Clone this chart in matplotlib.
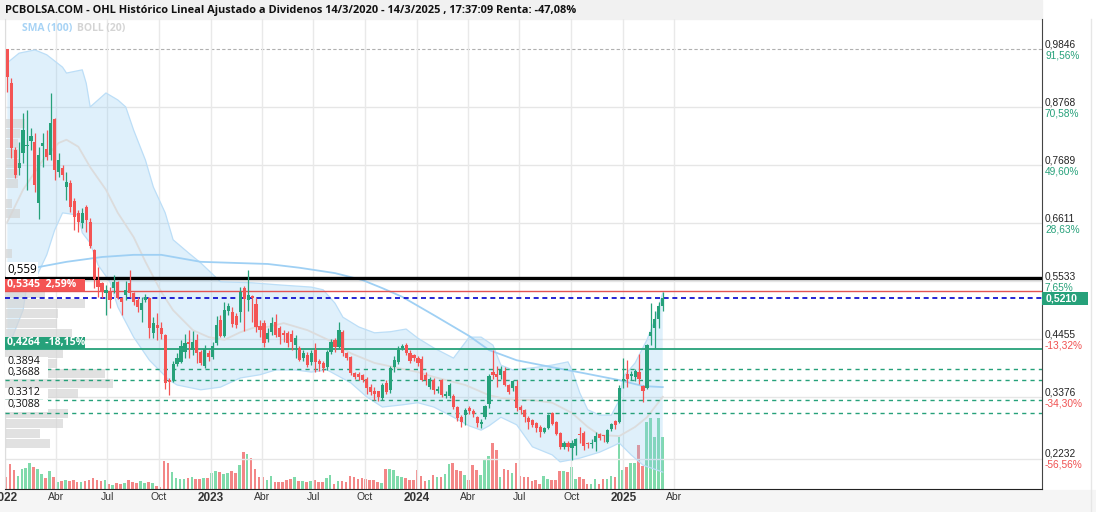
import datetime as dt
import numpy as np
import matplotlib
matplotlib.use("Agg")
import matplotlib.pyplot as plt
import matplotlib.dates as mdates
import matplotlib.transforms as mtransforms
from matplotlib.patches import Rectangle

# ---- weekly OHL candles (first week 5/1/2022, last week 12/3/2025) ----
open_p = [
    .985, .921, .797, .763, .791, .804, .814, .812, .698, .804, .799, .788, .855, .756, .763, .728,
    .736, .702, .680, .661, .691, .663, .611,
    .555, .550, .531, .533, .540, .551, .522, .527, .550, .531, .518, .499, .518, .522, .457, .471,
    .466, .453,
    .370, .369, .399, .403, .421, .440, .425, .443, .421, .395, .419, .412,
    .438, .481, .451, .497, .495, .488, .495, .540, .518, .525, .510, .470, .475, .4455, .458, .477,
    .466, .456, .457, .455, .434, .429, .410, .416, .403, .425, .405, .401, .393, .421, .443, .431,
    .458, .419, .412, .382, .380, .378, .371, .356, .349, .348, .336, .364, .350, .393, .403, .429,
    .434, .419, .416, .410, .408, .378, .356, .369, .349, .369, .340, .339, .340,
    .319, .3005, .304, .317, .312, .3005, .287, .3005, .325, .384, .380, .378, .386, .360, .354, .358,
    .319, .3135, .299, .295, .2893, .282, .2726, .280, .308, .291, .2707, .2447, .2521, .2428, .2465,
    .2689, .2707, .2512, .2503, .254, .2689, .267, .254, .2782, .293, .291, .367, .380, .377, .375,
    .384, .358, .354, .451, .466, .483, .507]
high_p = [
    .985, .931, .802, .812, .866, .871, .838, .829, .802, .829, .834, .903, .856, .791, .769, .756,
    .741, .708, .685, .689, .695, .670, .613,
    .579, .552, .546, .542, .564, .553, .524, .553, .574, .533, .524, .524, .529, .524, .486, .494,
    .477, .455,
    .373, .405, .420, .443, .455, .462, .460, .455, .425, .434, .425, .440,
    .488, .490, .514, .512, .505, .494, .542, .544, .574, .527, .522, .480, .480, .466, .486, .492,
    .470, .462, .460, .462, .453, .432, .425, .421, .425, .438, .408, .405, .425, .445, .447, .477,
    .462, .421, .414, .384, .384, .380, .375, .362, .356, .349, .364, .369, .395, .414, .432, .436,
    .438, .425, .418, .414, .414, .384, .375, .373, .358, .371, .349, .364, .343,
    .321, .304, .317, .321, .315, .302, .297, .323, .380, .425, .395, .395, .393, .362, .369, .369,
    .323, .315, .302, .297, .291, .2856, .282, .306, .310, .293, .2726, .256, .2559, .2577, .2614,
    .2819, .2745, .254, .2596, .2726, .2707, .267, .2782, .2893, .295, .360, .410, .406, .386, .390,
    .417, .360, .436, .512, .497, .514, .533]
low_p = [
    .905, .782, .745, .750, .773, .723, .797, .719, .669, .766, .778, .778, .741, .747, .741, .704,
    .682, .648, .645, .652, .645, .614, .540,
    .524, .522, .490, .503, .531, .520, .490, .518, .524, .508, .496, .477, .514, .447, .447, .443,
    .445, .352,
    .341, .366, .395, .401, .410, .410, .415, .400, .398, .391, .405, .408,
    .434, .449, .449, .490, .468, .466, .477, .460, .497, .477, .458, .449, .430, .440, .453, .449,
    .436, .440, .430, .425, .410, .404, .404, .393, .397, .384, .386, .384, .388, .418, .421, .429,
    .414, .406, .378, .371, .369, .365, .343, .342, .332, .330, .332, .343, .345, .384, .399, .425,
    .416, .401, .404, .395, .367, .360, .352, .343, .345, .338, .336, .336, .315,
    .293, .282, .286, .306, .300, .282, .280, .297, .318, .371, .356, .371, .358, .343, .349, .312,
    .306, .291, .278, .282, .273, .263, .2707, .278, .2856, .267, .241, .241, .237, .2205, .2298,
    .2521, .2391, .2428, .2428, .2372, .2577, .254, .2521, .2745, .2782, .2893, .354, .356, .369, .367,
    .362, .328, .352, .434, .429, .466, .497]
close_p = [
    .933, .801, .750, .773, .834, .806, .823, .732, .788, .810, .784, .847, .760, .778, .750, .737,
    .691, .672, .663, .680, .667, .618, .557,
    .542, .533, .537, .518, .551, .522, .514, .537, .531, .514, .505, .512, .524, .466, .475, .466,
    .455, .364,
    .366, .399, .410, .432, .438, .436, .440, .419, .401, .427, .412, .432,
    .471, .451, .499, .507, .473, .471, .533, .520, .527, .522, .468, .462, .438, .457, .475, .453,
    .449, .453, .438, .440, .447, .406, .419, .397, .419, .403, .399, .391, .421, .440, .431, .462,
    .419, .410, .382, .375, .375, .369, .354, .347, .343, .338, .360, .347, .391, .406, .425, .432,
    .419, .405, .410, .401, .369, .369, .371, .351, .353, .341, .343, .360, .319,
    .299, .291, .3135, .312, .306, .290, .291, .321, .377, .378, .375, .388, .360, .347, .367, .317,
    .3135, .3005, .291, .2856, .280, .2726, .280, .304, .2875, .2689, .2447, .2521, .2447, .2521, .2596,
    .267, .2465, .2503, .2521, .2651, .2614, .266, .2763, .2875, .2856, .354, .371, .371, .380, .386,
    .371, .349, .434, .458, .483, .507, .521]
# weekly volume (relative units)
volume = [
    12, 25, 19, 13, 20, 21, 26, 22, 20, 15, 11, 18, 12, 7, 8, 9, 8, 9, 7, 7, 8, 9, 11, 9, 8, 9, 5, 4,
    6, 5, 6, 9, 7, 6, 8, 6, 7, 6, 3, 2, 28, 26, 17, 11, 10, 10, 11, 12, 10,
    10, 11, 11, 16, 18, 17, 15, 16, 18, 16, 24, 37, 35, 31, 20, 12, 12, 9, 13, 7, 7, 7, 9, 10, 12,
    8, 8, 7, 8, 9, 7, 7, 11, 14, 5, 8, 8, 7, 13, 12, 10, 11, 10, 9, 9, 7, 6, 20, 20, 19, 13, 12, 11,
    9, 9, 19, 13, 8, 9, 14, 12, 12, 15, 25, 26, 19, 18, 14, 9, 24, 19, 14, 30, 33, 46, 39, 12, 20,
    19, 16, 26, 13, 12, 12, 8, 9, 5, 13, 10, 9, 9, 18, 18, 17, 22, 10, 12, 10, 5, 5, 10, 5, 10, 10,
    13, 12, 52, 19, 22, 26, 26, 44, 23, 67, 71, 52, 71, 52]

# ---- indicators (week number, value) ----
boll_up_wk = [0, 3, 7, 10, 14, 15, 19, 20, 21, 23, 25, 28, 30, 32, 35, 37, 40, 42, 46, 49, 54, 62, 69,
              77, 80, 83, 85, 89, 93, 97, 101, 104, 108, 113, 117, 120, 123, 125, 128, 133, 138, 142,
              143, 145, 147, 150, 153, 155, 156, 159, 162, 164, 166]
boll_up = [0.959, 0.977, 0.983, 0.974, 0.951, 0.940, 0.946, 0.921, 0.877, 0.890, 0.903, 0.890, 0.877,
           0.834, 0.778, 0.728, 0.680, 0.630, 0.605, 0.587, 0.552, 0.550, 0.546, 0.542, 0.537, 0.512,
           0.486, 0.468, 0.457, 0.459, 0.464, 0.447, 0.429, 0.410, 0.449, 0.449, 0.434, 0.397, 0.388,
           0.392, 0.397, 0.403, 0.388, 0.345, 0.314, 0.304, 0.304, 0.332, 0.375, 0.401, 0.444, 0.481,
           0.531]
boll_lo_wk = [0, 2, 4, 5, 7, 10, 12, 14, 18, 19, 21, 23, 26, 28, 32, 36, 41, 43, 49, 54, 59, 64, 68,
              73, 77, 81, 87, 91, 95, 100, 104, 108, 112, 117, 120, 122, 125, 129, 133, 138, 140, 145,
              150, 153, 155, 158, 161, 166]
boll_lo = [0.425, 0.462, 0.499, 0.546, 0.555, 0.602, 0.648, 0.680, 0.676, 0.643, 0.624, 0.583, 0.552,
           0.505, 0.449, 0.406, 0.369, 0.360, 0.351, 0.356, 0.373, 0.379, 0.388, 0.388, 0.384, 0.388,
           0.364, 0.338, 0.319, 0.323, 0.327, 0.319, 0.304, 0.284, 0.276, 0.284, 0.300, 0.286, 0.245,
           0.230, 0.217, 0.224, 0.235, 0.245, 0.252, 0.230, 0.211, 0.198]
boll_mid_wk = [0, 4, 9, 13, 15, 18, 21, 25, 28, 32, 35, 39, 42, 47, 51, 55, 59, 63, 66, 70, 76, 83, 87,
               93, 100, 104, 108, 116, 122, 125, 129, 133, 138, 143, 147, 150, 155, 159, 162, 166]
boll_mid = [0.663, 0.723, 0.778, 0.810, 0.816, 0.803, 0.765, 0.723, 0.680, 0.635, 0.589, 0.533, 0.499,
            0.462, 0.449, 0.444, 0.458, 0.468, 0.468, 0.475, 0.462, 0.438, 0.419, 0.401, 0.390, 0.384,
            0.375, 0.360, 0.341, 0.336, 0.332, 0.332, 0.327, 0.308, 0.282, 0.267, 0.265, 0.282, 0.300,
            0.338]
sma_wk = [0, 7, 15, 24, 32, 39, 49, 66, 74, 83, 90, 95, 100, 108, 117, 122, 129, 138, 146, 155, 161, 166]
sma100 = [0.559, 0.578, 0.589, 0.598, 0.602, 0.602, 0.589, 0.585, 0.578, 0.568, 0.555, 0.540, 0.524,
          0.490, 0.451, 0.425, 0.406, 0.393, 0.382, 0.369, 0.358, 0.356]

# ---- horizontal levels ----
level_black = 0.559
level_red, level_red_txt = 0.5345, "0,5345  2,59%"
level_last = 0.5210
level_green, level_green_txt = 0.4264, "0,4264  -18,15%"
levels_dash = [0.3894, 0.3688, 0.3312, 0.3088]
levels_dash_txt = ["0.3894", "0,3688", "0.3312", "0,3088"]
price_max = 0.9846

# right scale
price_ticks = [0.9846, 0.8768, 0.7689, 0.6611, 0.5533, 0.4455, 0.3376, 0.2232]
pct_ticks = ["91,56%", "70,58%", "49,60%", "28,63%", "7,65%", "-13,32%", "-34,30%", "-56,56%"]

# volume by price (left profile)
prof_start, prof_step = 0.2428, 0.0186
prof_vol = [45, 35, 58, 63, 30, 73, 108, 100, 52, 58, 60, 67, 52, 53, 80, 40, 0, 0, 0, 7, 0, 0, 0,
            15, 7, 0, 13, 13, 15, 13, 13, 15, 20]

# time axis
tick_dates = [dt.date(2022, 1, 1), dt.date(2022, 4, 1), dt.date(2022, 7, 1), dt.date(2022, 10, 1),
              dt.date(2023, 1, 1), dt.date(2023, 4, 1), dt.date(2023, 7, 1), dt.date(2023, 10, 1),
              dt.date(2024, 1, 1), dt.date(2024, 4, 1), dt.date(2024, 7, 1), dt.date(2024, 10, 1),
              dt.date(2025, 1, 1), dt.date(2025, 4, 1)]
tick_txt = ["2022", "Abr", "Jul", "Oct", "2023", "Abr", "Jul", "Oct",
            "2024", "Abr", "Jul", "Oct", "2025", "Abr"]

title = ("PCBOLSA.COM - OHL Histórico Lineal Ajustado a Dividenos 14/3/2020 - 14/3/2025 , "
         "17:37:09 Renta: -47,08%")

# ---- colours ----
GREEN, RED = "#26a17a", "#f45454"
VGREEN, VRED = "#80daab", "#f38787"

# ---- layout (pixels) ----
W, H = 1096, 512
L, R, T, B = 5, 1042, 19, 489
PX_DAY = 0.5648
Y0, Y1 = 0.16659, 1.04052
ppx = (Y1 - Y0) / (B - T)

weeks = [dt.date(2022, 1, 5) + dt.timedelta(weeks=i) for i in range(len(close_p))]
xd = mdates.date2num(weeks)
o, h, l, c = map(np.array, (open_p, high_p, low_p, close_p))
up = c >= o
ccol = np.where(up, GREEN, RED)
vcol = np.where(up, VGREEN, VRED)

fig = plt.figure(figsize=(W / 100, H / 100), dpi=100)
rect = [L / W, 1 - B / H, (R - L) / W, (B - T) / H]
axv = fig.add_axes(rect)      # volume, underneath
ax = fig.add_axes(rect)       # prices on top
ax.patch.set_visible(False)

xlim = (xd[0] - 1.0 / PX_DAY, xd[0] + (R - 6) / PX_DAY)
for a in (ax, axv):
    a.set_xlim(*xlim)
ax.set_ylim(Y0, Y1)
axv.set_ylim(0, B - T)

# background bands of the page
fig.add_artist(Rectangle((0, 1 - T / H), R / W, T / H, transform=fig.transFigure,
                         color="#f1f1f1", zorder=-5))
fig.add_artist(Rectangle((0, 0), 1, (H - B - 1) / H, transform=fig.transFigure,
                         color="#f5f5f5", zorder=-5))
fig.add_artist(plt.Line2D([1091 / W, 1091 / W], [0, 1 - T / H], transform=fig.transFigure,
                          color="#e6e6e6", lw=1))

# volume bars
axv.bar(xd, volume, width=4.6, color=vcol, linewidth=0)
axv.axis("off")

# grid
for v in price_ticks:
    if v == price_max:
        ax.axhline(v, color="#b0b0b0", lw=0.8, dashes=(3, 2), zorder=0.5)
    else:
        ax.axhline(v, color="#e6e6e6", lw=1, zorder=0.5)
for d in tick_dates:
    ax.axvline(mdates.date2num(d), color="#e9e9e9", lw=1, zorder=0.5)

# bollinger band + sma
bx = np.concatenate([xd[boll_up_wk], xd[boll_lo_wk][::-1]])
by = np.concatenate([boll_up, boll_lo[::-1]])
ax.fill(bx, by, color="#8ccaf3", alpha=0.27, lw=0, zorder=1)
ax.plot(xd[boll_up_wk], boll_up, color="#bcdef7", lw=0.9, zorder=1.2)
ax.plot(xd[boll_lo_wk], boll_lo, color="#bcdef7", lw=0.9, zorder=1.2)
ax.plot(xd[boll_mid_wk], boll_mid, color="#dcdcdc", lw=1.3, zorder=1.3)
ax.plot(xd[sma_wk], sma100, color="#9fd0f4", lw=1.3, zorder=1.4)

# volume profile at the left
blend = mtransforms.blended_transform_factory(ax.transAxes, ax.transData)
for k, pv in enumerate(prof_vol):
    if pv > 0:
        ax.add_patch(Rectangle((0, prof_start + k * prof_step), pv / (R - L), prof_step * 0.9,
                               transform=blend, color="#d5d5d5", alpha=0.7, lw=0, zorder=2))

# level lines
ax.axhline(level_black, color="black", lw=2.4, zorder=3)
ax.axhline(level_red, color="#e25252", lw=1.0, zorder=3)
ax.axhline(level_last, color="#0000cd", lw=1.2, dashes=(3, 2.2), zorder=3)
ax.axhline(level_green, color=GREEN, lw=1.3, zorder=3)
for v in levels_dash:
    ax.axhline(v, color=GREEN, lw=1.0, dashes=(3, 3), zorder=3)

# candles
ax.vlines(xd, l, h, colors=ccol, lw=0.9, zorder=5)
ax.bar(xd, np.maximum(np.abs(c - o), 0.0016), bottom=np.minimum(o, c), width=5.6,
       color=ccol, linewidth=0, zorder=6)

# left labels
ax.annotate("0,559", xy=(0, level_black), xycoords=("axes fraction", "data"),
            xytext=(2, 2), textcoords="offset pixels", va="bottom", ha="left",
            fontsize=8.4, family="Open Sans", color="black", zorder=8,
            bbox=dict(boxstyle="square,pad=0.1", fc="white", ec="none"))
for v, txt, col in [(level_red, level_red_txt, RED), (level_green, level_green_txt, GREEN)]:
    ax.add_patch(Rectangle((0, v), 80 / (R - L), 12.5 * ppx, transform=blend, color=col,
                           lw=0, zorder=7, clip_on=False))
    ax.annotate(txt, xy=(0, v), xycoords=("axes fraction", "data"), xytext=(2, 6.5),
                textcoords="offset pixels", va="center", ha="left", fontsize=7.6,
                family="Open Sans", fontweight="bold", color="white", zorder=8)
for v, txt in zip(levels_dash, levels_dash_txt):
    ax.add_patch(Rectangle((0, v + 1 * ppx), 43 / (R - L), 11.5 * ppx, transform=blend,
                           color="white", lw=0, zorder=7))
    ax.annotate(txt, xy=(0, v), xycoords=("axes fraction", "data"), xytext=(2, 2.5),
                textcoords="offset pixels", va="bottom", ha="left", fontsize=7.6,
                family="Open Sans", color="#111111", zorder=8)

# right scale labels
for v, pct in zip(price_ticks, pct_ticks):
    ax.annotate(f"{v:.4f}".replace(".", ","), xy=(1, v), xycoords=("axes fraction", "data"),
                xytext=(3, 0), textcoords="offset pixels", va="bottom", ha="left",
                fontsize=7.3, family="Liberation Sans", color="#222222", annotation_clip=False)
    ax.annotate(pct, xy=(1, v), xycoords=("axes fraction", "data"),
                xytext=(3, -1), textcoords="offset pixels", va="top", ha="left",
                fontsize=7.3, family="Liberation Sans",
                color=GREEN if not pct.startswith("-") else "#f05050", annotation_clip=False)
ax.add_patch(Rectangle((1, level_last - 6.5 * ppx), 46 / (R - L), 13 * ppx, transform=blend,
                       color=GREEN, lw=0, zorder=8, clip_on=False))
ax.annotate(f"{level_last:.4f}".replace(".", ","), xy=(1, level_last),
            xycoords=("axes fraction", "data"), xytext=(4, 0), textcoords="offset pixels",
            va="center", ha="left", fontsize=7.6, family="Liberation Sans", fontweight="bold",
            color="white", annotation_clip=False, zorder=9)

# axes cosmetics
ax.set_yticks([])
ax.set_xticks(mdates.date2num(tick_dates))
ax.set_xticklabels(tick_txt)
ax.tick_params(axis="x", length=0, pad=2.5, colors="#333333")
for lab in ax.get_xticklabels():
    lab.set_family("Liberation Sans")
    if lab.get_text().isdigit():
        lab.set_fontweight("bold")
        lab.set_fontsize(8.5)
    else:
        lab.set_fontsize(7.5)
ax.spines["top"].set_visible(False)
ax.spines["left"].set_color("#dddddd")
ax.spines["right"].set_color("#444444")
ax.spines["bottom"].set_color("#222222")

# title and legend
fig.text(5 / W, 1 - 10 / H, title, ha="left", va="center", fontsize=7.95,
         family="Open Sans", fontweight="bold", color="#111111")
fig.text(22 / W, 1 - 28 / H, "SMA (100)", ha="left", va="center", fontsize=7.5,
         family="Open Sans", fontweight="bold", color="#a7d3f5")
fig.text(77 / W, 1 - 28 / H, "BOLL (20)", ha="left", va="center", fontsize=7.5,
         family="Open Sans", fontweight="bold", color="#d4d4d4")

fig.savefig("out.png", dpi=100)
